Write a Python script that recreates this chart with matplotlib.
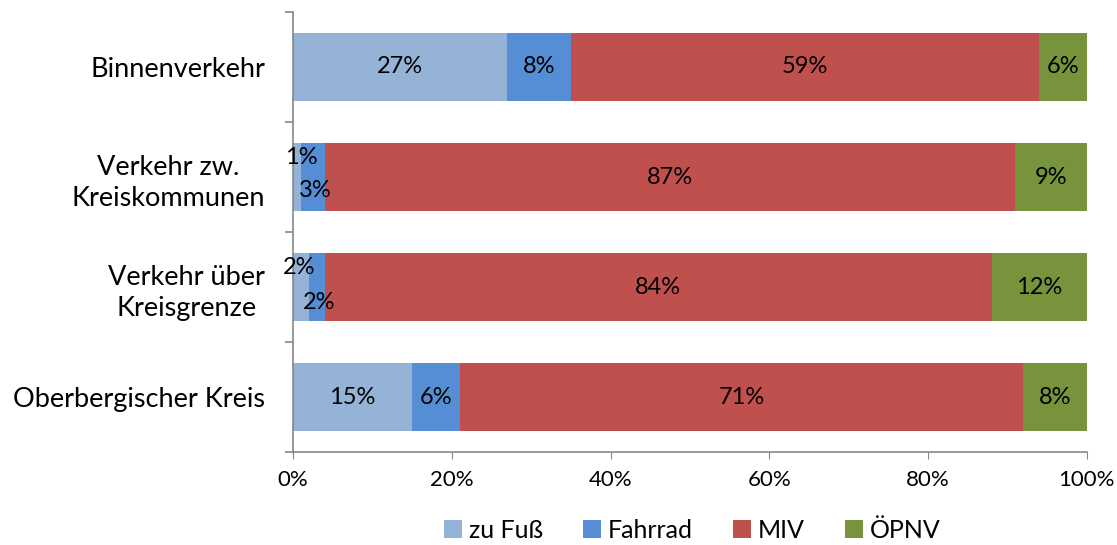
import matplotlib.pyplot as plt
import numpy as np

plt.rcParams['font.family'] = ['Lato', 'DejaVu Sans']

# Anteile je Verkehrsmittel (in %)
kategorien = ['Binnenverkehr', 'Verkehr zw.\nKreiskommunen', 'Verkehr über\nKreisgrenze', 'Oberbergischer Kreis']
zu_fuss = [27, 1, 2, 15]
fahrrad = [8, 3, 2, 6]
miv = [59, 87, 84, 71]
oepnv = [6, 9, 12, 8]

reihen = ['zu Fuß', 'Fahrrad', 'MIV', 'ÖPNV']
werte = [zu_fuss, fahrrad, miv, oepnv]
farben = ['#95B3D7', '#558ED5', '#C0504D', '#77933C']

# Labels, die bei schmalen Segmenten nach oben/unten versetzt werden (Punkte)
versatz = {(1, 0): (3, 14), (1, 1): (2, -9.5), (2, 0): (-1, 14), (2, 1): (2, -11.5)}

fig = plt.figure(figsize=(11.17, 5.45), dpi=100)
ax = fig.add_axes([0.2623, 0.1706, 0.7108, 0.8074])

y = np.arange(len(kategorien))
links = np.zeros(len(kategorien))
for j, (name, w, c) in enumerate(zip(reihen, werte, farben)):
    w = np.array(w, dtype=float)
    bars = ax.barh(y, w, left=links, height=0.62, color=c, label=name)
    for i, b in enumerate(bars):
        xc = links[i] + w[i] / 2
        dx, dy = versatz.get((i, j), (0, 0))
        ax.annotate(f'{int(w[i])}%', (xc, y[i]), xytext=(dx, dy), textcoords='offset points',
                    ha='center', va='center', fontsize=17, color='black')
    links += w

ax.set_xlim(0, 100)
ax.set_ylim(len(kategorien) - 0.5, -0.5)
ax.set_xticks(np.arange(0, 101, 20))
ax.set_xticklabels([f'{t}%' for t in range(0, 101, 20)], fontsize=16)
ax.set_yticks(y)
ax.set_yticklabels(kategorien, fontsize=19.5, ha='right', multialignment='center', linespacing=1.3)
ax.tick_params(axis='y', length=0, pad=20)
ax.tick_params(axis='x', length=5, color='#868686', pad=8)

# Trennstriche zwischen den Kategorien an der y-Achse
ax.set_yticks(np.arange(-0.5, len(kategorien)), minor=True)
ax.tick_params(axis='y', which='minor', length=6, color='#868686', width=1.2)

for s in ['top', 'right']:
    ax.spines[s].set_visible(False)
for s in ['left', 'bottom']:
    ax.spines[s].set_color('#868686')
    ax.spines[s].set_linewidth(1.2)

fig.legend(loc='lower center', bbox_to_anchor=(0.62, -0.035), ncol=4, frameon=False,
           fontsize=18, handlelength=0.7, handleheight=0.7, handletextpad=0.3, columnspacing=1.6)

fig.savefig('out.png', dpi=100)
